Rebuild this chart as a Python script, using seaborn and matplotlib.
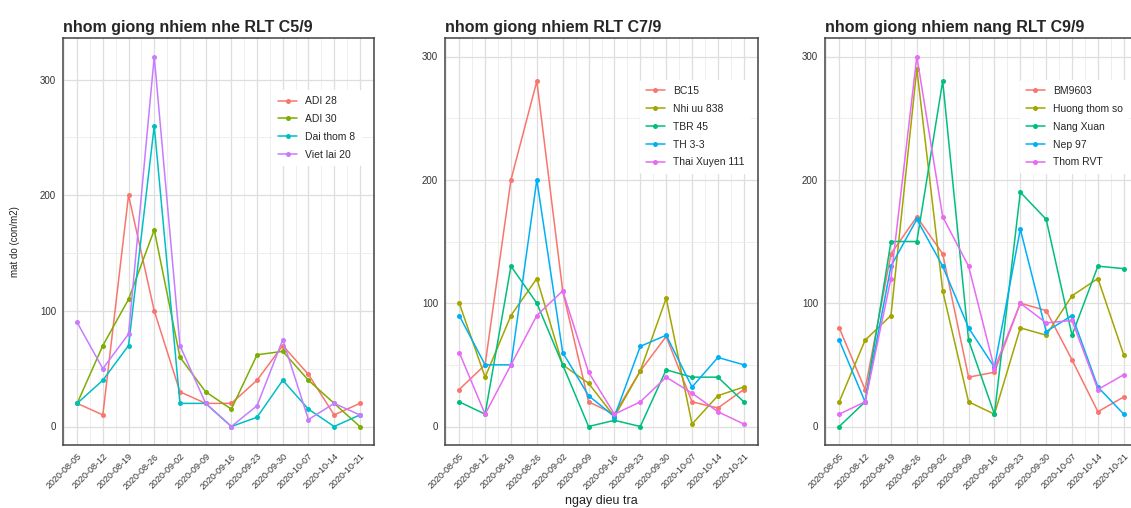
import numpy as np
import pandas as pd
import matplotlib
matplotlib.use("Agg")
import matplotlib.pyplot as plt
import matplotlib.dates as mdates
import seaborn as sns

# ---------------- data ----------------
dates = ["2020-08-05", "2020-08-12", "2020-08-19", "2020-08-26", "2020-09-02", "2020-09-09",
         "2020-09-16", "2020-09-23", "2020-09-30", "2020-10-07", "2020-10-14", "2020-10-21"]

p1_names = ["ADI 28", "ADI 30", "Dai thom 8", "Viet lai 20"]
adi28 = [20, 10, 200, 100, 30, 20, 20, 40, 70, 45, 10, 20]
adi30 = [20, 70, 110, 170, 60, 30, 15, 62, 65, 40, 20, 0]
daithom8 = [20, 40, 70, 260, 20, 20, 0, 8, 40, 15, 0, 10]
vietlai20 = [90, 50, 80, 320, 70, 20, 0, 18, 75, 6, 20, 10]

p2_names = ["BC15", "Nhi uu 838", "TBR 45", "TH 3-3", "Thai Xuyen 111"]
bc15 = [30, 50, 200, 280, 110, 20, 10, 45, 73, 20, 15, 30]
nhiuu838 = [100, 40, 90, 120, 50, 35, 8, 45, 104, 2, 25, 32]
tbr45 = [20, 10, 130, 100, 50, 0, 5, 0, 46, 40, 40, 20]
th33 = [90, 50, 50, 200, 60, 25, 8, 65, 74, 32, 56, 50]
thaixuyen111 = [60, 10, 50, 90, 110, 44, 10, 20, 40, 27, 12, 2]

p3_names = ["BM9603", "Huong thom so", "Nang Xuan", "Nep 97", "Thom RVT"]
bm9603 = [80, 30, 140, 170, 140, 40, 44, 100, 94, 54, 12, 24]
huongthom = [20, 70, 90, 290, 110, 20, 10, 80, 74, 106, 120, 58]
nangxuan = [0, 20, 150, 150, 280, 70, 10, 190, 168, 74, 130, 128]
nep97 = [70, 20, 130, 168, 130, 80, 48, 160, 77, 90, 32, 10]
thomrvt = [10, 20, 120, 300, 170, 130, 47, 100, 84, 86, 30, 42]

titles = ["nhom giong nhiem nhe RLT C5/9",
          "nhom giong nhiem RLT C7/9",
          "nhom giong nhiem nang RLT C9/9"]
y_ticks = [0, 100, 200, 300]
y_label = "mat do (con/m2)"
x_label = "ngay dieu tra"

pal4 = ["#F8766D", "#7CAE00", "#00BFC4", "#C77CFF"]
pal5 = ["#F8766D", "#A3A500", "#00BF7D", "#00B0F6", "#E76BF3"]

# ---------------- style ----------------
sns.set_theme(style="white")
plt.rcParams["font.family"] = ["Liberation Sans", "DejaVu Sans"]

W, H = 1131, 508
fig = plt.figure(figsize=(W / 100, H / 100), dpi=100)


def make_df(names, series):
    rows = []
    for n, s in zip(names, series):
        for d, v in zip(dates, s):
            rows.append({"date": pd.Timestamp(d), "val": v, "giong": n})
    return pd.DataFrame(rows)


panels = [
    (make_df(p1_names, [adi28, adi30, daithom8, vietlai20]), p1_names, pal4, 63, 374, (-16, 336), (0.655, 0.885)),
    (make_df(p2_names, [bc15, nhiuu838, tbr45, th33, thaixuyen111]), p2_names, pal5, 445, 758, (-15, 315), (0.605, 0.91)),
    (make_df(p3_names, [bm9603, huongthom, nangxuan, nep97, thomrvt]), p3_names, pal5, 825, 1138, (-15, 315), (0.605, 0.91)),
]

top_px, bot_px = 38, 445
dnum = mdates.date2num(pd.to_datetime(dates))
step = dnum[1] - dnum[0]
minor = list((dnum[:-1] + dnum[1:]) / 2) + [dnum[0] - step / 2, dnum[-1] + step / 2]
pad = (dnum[-1] - dnum[0]) * 0.05

for i, (df, names, pal, l, r, ylim, legpos) in enumerate(panels):
    ax = fig.add_axes([l / W, 1 - bot_px / H, (r - l) / W, (bot_px - top_px) / H])
    sns.lineplot(data=df, x="date", y="val", hue="giong", hue_order=names,
                 palette=pal, marker="o", markersize=3.6, markeredgewidth=0,
                 linewidth=1.1, ax=ax)
    ax.set_xlim(dnum[0] - pad, dnum[-1] + pad)
    ax.set_ylim(*ylim)
    ax.set_xticks(dnum)
    ax.set_xticks(minor, minor=True)
    ax.xaxis.set_major_formatter(mdates.DateFormatter("%Y-%m-%d"))
    ax.set_yticks(y_ticks)
    ax.set_yticks([50, 150, 250], minor=True)
    ax.grid(True, which="major", color="#dedede", linewidth=0.9)
    ax.grid(True, which="minor", color="#ebebeb", linewidth=0.6)
    ax.set_axisbelow(True)
    for s in ax.spines.values():
        s.set_color("#444444")
        s.set_linewidth(1.1)
    ax.tick_params(axis="both", which="major", length=3, color="#444444",
                   labelsize=7, labelcolor="#333333", pad=2)
    ax.tick_params(axis="x", which="major", labelsize=6.5)
    ax.tick_params(axis="both", which="minor", length=0)
    plt.setp(ax.get_xticklabels(), rotation=45, ha="right", rotation_mode="anchor")
    ax.set_title(titles[i], loc="left", fontsize=11.5, fontweight="bold", pad=4)
    ax.set_xlabel(x_label if i == 1 else "", fontsize=9, color="#222222", labelpad=3)
    ax.set_ylabel(y_label if i == 0 else "", fontsize=7, color="#222222", labelpad=14)
    leg = ax.legend(loc="upper left", bbox_to_anchor=legpos, frameon=True,
                    facecolor="white", edgecolor="none", framealpha=1,
                    fontsize=7.5, handlelength=1.8, labelspacing=0.75,
                    borderpad=0.6, handletextpad=0.8, title=None)

fig.savefig("out.png", dpi=100)
